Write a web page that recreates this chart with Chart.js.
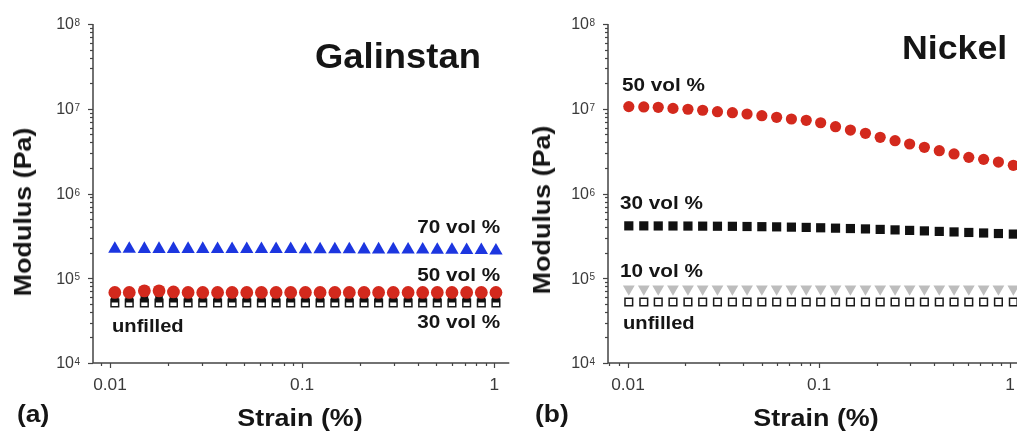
<!DOCTYPE html>
<html>
<head>
<meta charset="utf-8">
<title>Modulus vs strain - Galinstan / Nickel</title>
<script src="https://cdn.jsdelivr.net/npm/chart.js@4.4.1/dist/chart.umd.min.js"></script>
<style>
    html, body { margin: 0; padding: 0; background: #fff; }
    body { width: 1017px; height: 434px; overflow: hidden; position: relative; font-family: 'Liberation Sans', Arial, sans-serif; }
    .panel { position: absolute; top: 0; height: 434px; }
    .lbl { position: absolute; font-weight: bold; line-height: 1; white-space: nowrap; color: #151515; }
    .l { transform-origin: left center; }
    .r { transform-origin: right center; }
</style>
</head>
<body>
<div class="panel" style="left:0;width:517px"><canvas id="chartA" width="517" height="434"></canvas></div>
<div class="panel" style="left:500px;width:535px"><canvas id="chartB" width="535" height="434"></canvas></div>

<!-- panel (a) text -->
<div class="lbl l" style="left:315px;top:38px;font-size:35px;transform:scaleX(1.04)">Galinstan</div>
<div class="lbl r" style="right:517px;top:218px;font-size:18px;transform:scaleX(1.15)">70 vol %</div>
<div class="lbl r" style="right:517px;top:266px;font-size:18px;transform:scaleX(1.15)">50 vol %</div>
<div class="lbl r" style="right:517px;top:313px;font-size:18px;transform:scaleX(1.15)">30 vol %</div>
<div class="lbl l" style="left:112px;top:317px;font-size:18px;transform:scaleX(1.12)">unfilled</div>
<div class="lbl l" style="left:17px;top:402px;font-size:24px;transform:scaleX(1.1)">(a)</div>
<div class="lbl" style="left:300px;top:406px;font-size:24px;transform:translateX(-50%) scaleX(1.12)">Strain (%)</div>
<div class="lbl" style="left:23px;top:212px;font-size:24px;transform:translate(-50%,-50%) rotate(-90deg) scaleX(1.12)">Modulus (Pa)</div>

<!-- panel (b) text -->
<div class="lbl l" style="left:902px;top:30px;font-size:34px;transform:scaleX(1.05)">Nickel</div>
<div class="lbl l" style="left:622px;top:76px;font-size:18px;transform:scaleX(1.15)">50 vol %</div>
<div class="lbl l" style="left:620px;top:194px;font-size:18px;transform:scaleX(1.15)">30 vol %</div>
<div class="lbl l" style="left:620px;top:262px;font-size:18px;transform:scaleX(1.15)">10 vol %</div>
<div class="lbl l" style="left:623px;top:314px;font-size:18px;transform:scaleX(1.12)">unfilled</div>
<div class="lbl l" style="left:535px;top:402px;font-size:24px;transform:scaleX(1.1)">(b)</div>
<div class="lbl" style="left:816px;top:406px;font-size:24px;transform:translateX(-50%) scaleX(1.12)">Strain (%)</div>
<div class="lbl" style="left:542px;top:210px;font-size:24px;transform:translate(-50%,-50%) rotate(-90deg) scaleX(1.12)">Modulus (Pa)</div>

<script>
const galStrain = [0.0106, 0.0126, 0.0151, 0.0180, 0.0214, 0.0255, 0.0304, 0.0363, 0.0432, 0.0515,
    0.0614, 0.0732, 0.0872, 0.104, 0.124, 0.148, 0.176, 0.210, 0.250, 0.298,
    0.356, 0.424, 0.505, 0.602, 0.718, 0.856, 1.02];
const niStrain = [0.0101, 0.0121, 0.0144, 0.0172, 0.0206, 0.0246, 0.0294, 0.0352, 0.0420, 0.0502,
    0.0600, 0.0717, 0.0857, 0.102, 0.122, 0.146, 0.175, 0.209, 0.250, 0.298,
    0.356, 0.426, 0.509, 0.608, 0.727, 0.869, 1.04];

// (a) Galinstan modulus (Pa)
const gal70 = [2.22e5, 2.22e5, 2.21e5, 2.21e5, 2.21e5, 2.21e5, 2.21e5, 2.20e5, 2.20e5, 2.20e5,
    2.20e5, 2.20e5, 2.20e5, 2.19e5, 2.19e5, 2.19e5, 2.19e5, 2.18e5, 2.18e5, 2.18e5,
    2.17e5, 2.17e5, 2.16e5, 2.16e5, 2.15e5, 2.14e5, 2.12e5];
const gal50 = [6.8e4, 6.8e4, 7.1e4, 7.1e4, 6.9e4, 6.8e4, 6.8e4, 6.8e4, 6.8e4, 6.8e4,
    6.8e4, 6.8e4, 6.8e4, 6.8e4, 6.8e4, 6.8e4, 6.8e4, 6.8e4, 6.8e4, 6.8e4,
    6.8e4, 6.8e4, 6.8e4, 6.8e4, 6.8e4, 6.8e4, 6.8e4];
const gal30 = [5.75e4, 5.75e4, 5.75e4, 5.75e4, 5.75e4, 5.75e4, 5.75e4, 5.75e4, 5.75e4, 5.75e4,
    5.75e4, 5.75e4, 5.75e4, 5.75e4, 5.75e4, 5.75e4, 5.75e4, 5.75e4, 5.75e4, 5.75e4,
    5.75e4, 5.75e4, 5.75e4, 5.75e4, 5.75e4, 5.75e4, 5.75e4];
const galUnfilled = [5.1e4, 5.1e4, 5.1e4, 5.1e4, 5.1e4, 5.1e4, 5.1e4, 5.1e4, 5.1e4, 5.1e4,
    5.1e4, 5.1e4, 5.1e4, 5.1e4, 5.1e4, 5.1e4, 5.1e4, 5.1e4, 5.1e4, 5.1e4,
    5.1e4, 5.1e4, 5.1e4, 5.1e4, 5.1e4, 5.1e4, 5.1e4];

// (b) Nickel modulus (Pa)
const ni50 = [1.06e7, 1.05e7, 1.04e7, 1.01e7, 9.86e6, 9.6e6, 9.23e6, 8.98e6, 8.67e6, 8.28e6,
    7.93e6, 7.57e6, 7.31e6, 6.84e6, 6.14e6, 5.61e6, 5.13e6, 4.6e6, 4.2e6, 3.84e6,
    3.51e6, 3.2e6, 2.93e6, 2.67e6, 2.53e6, 2.35e6, 2.15e6];
const ni30 = [4.15e5, 4.15e5, 4.14e5, 4.14e5, 4.13e5, 4.12e5, 4.11e5, 4.10e5, 4.08e5, 4.06e5,
    4.04e5, 4.01e5, 3.98e5, 3.94e5, 3.90e5, 3.86e5, 3.82e5, 3.77e5, 3.72e5, 3.67e5,
    3.62e5, 3.57e5, 3.52e5, 3.47e5, 3.42e5, 3.37e5, 3.32e5];
const ni10 = [7.5e4, 7.5e4, 7.5e4, 7.5e4, 7.5e4, 7.5e4, 7.5e4, 7.5e4, 7.5e4, 7.5e4,
    7.5e4, 7.5e4, 7.5e4, 7.5e4, 7.5e4, 7.5e4, 7.5e4, 7.5e4, 7.5e4, 7.5e4,
    7.5e4, 7.5e4, 7.5e4, 7.5e4, 7.5e4, 7.5e4, 7.5e4];
const niUnfilled = [5.25e4, 5.25e4, 5.25e4, 5.25e4, 5.25e4, 5.25e4, 5.25e4, 5.25e4, 5.25e4, 5.25e4,
    5.25e4, 5.25e4, 5.25e4, 5.25e4, 5.25e4, 5.25e4, 5.25e4, 5.25e4, 5.25e4, 5.25e4,
    5.25e4, 5.25e4, 5.25e4, 5.25e4, 5.25e4, 5.25e4, 5.25e4];

// axis ticks
const xTickValues = [0.01, 0.1, 1];
const xTickLabels = ['0.01', '0.1', '1'];
const yTickExps = [4, 5, 6, 7, 8];

function pts(xs, ys) {
    return xs.map((x, i) => ({ x: x, y: ys[i] }));
}

// axis lines, log ticks and tick labels drawn from the chart's own scales
const axisDecor = {
    id: 'axisDecor',
    beforeDatasetsDraw(chart) {
        const ctx = chart.ctx;
        const xs = chart.scales.x, ys = chart.scales.y;
        const a = chart.chartArea;
        ctx.save();
        ctx.strokeStyle = '#444';
        ctx.lineWidth = 1.5;
        ctx.beginPath();
        ctx.moveTo(a.left, a.top);
        ctx.lineTo(a.left, a.bottom);
        ctx.lineTo(a.right, a.bottom);
        ctx.stroke();

        ctx.lineWidth = 1.2;
        for (let e = Math.floor(Math.log10(xs.min)); e <= Math.ceil(Math.log10(xs.max)); e++) {
            for (let m = 1; m <= 9; m++) {
                const v = m * Math.pow(10, e);
                if (v < xs.min || v > xs.max) continue;
                const px = Math.round(xs.getPixelForValue(v)) + 0.5;
                ctx.beginPath();
                ctx.moveTo(px, a.bottom);
                ctx.lineTo(px, a.bottom + (m === 1 ? 5 : 3));
                ctx.stroke();
            }
        }
        for (let e = Math.floor(Math.log10(ys.min)); e <= Math.ceil(Math.log10(ys.max)); e++) {
            for (let m = 1; m <= 9; m++) {
                const v = m * Math.pow(10, e);
                if (v < ys.min * 0.999 || v > ys.max * 1.001) continue;
                const py = Math.round(ys.getPixelForValue(v)) + 0.5;
                ctx.beginPath();
                ctx.moveTo(a.left, py);
                ctx.lineTo(a.left - (m === 1 ? 5 : 3), py);
                ctx.stroke();
            }
        }

        ctx.fillStyle = '#3a3a3a';
        ctx.font = '16px "Liberation Sans", Arial, sans-serif';
        ctx.textAlign = 'center';
        ctx.textBaseline = 'alphabetic';
        xTickValues.forEach((v, i) => {
            const px = xs.getPixelForValue(v);
            ctx.save();
            ctx.translate(px, a.bottom + 27);
            ctx.scale(1.08, 1);
            ctx.fillText(xTickLabels[i], 0, 0);
            ctx.restore();
        });

        yTickExps.forEach(e => {
            const py = ys.getPixelForValue(Math.pow(10, e));
            ctx.font = '16px "Liberation Sans", Arial, sans-serif';
            ctx.textAlign = 'right';
            ctx.textBaseline = 'middle';
            ctx.fillText('10', a.left - 19, py + 1);
            ctx.font = '10px "Liberation Sans", Arial, sans-serif';
            ctx.textAlign = 'left';
            ctx.textBaseline = 'alphabetic';
            ctx.fillText(String(e), a.left - 18.5, py + 2);
        });
        ctx.restore();
    }
};

function makeChart(id, datasets, xMin, yAxisWidth, padRight) {
    return new Chart(document.getElementById(id), {
        type: 'scatter',
        data: { datasets: datasets },
        options: {
            responsive: false,
            animation: false,
            layout: { padding: { top: 24, right: padRight, bottom: 0, left: 0 } },
            plugins: { legend: { display: false }, tooltip: { enabled: false } },
            scales: {
                x: {
                    type: 'logarithmic', min: xMin, max: 1.197,
                    grid: { display: false }, border: { display: false },
                    ticks: { display: false },
                    afterFit: s => { s.height = 71; }
                },
                y: {
                    type: 'logarithmic', min: 1e4, max: 1e8,
                    grid: { display: false }, border: { display: false },
                    ticks: { display: false },
                    afterFit: s => { s.width = yAxisWidth; }
                }
            }
        },
        plugins: [axisDecor]
    });
}

const red = '#d3291d';

// first dataset is drawn on top
makeChart('chartA', [
    { label: '50 vol %', data: pts(galStrain, gal50), pointStyle: 'circle', pointRadius: 6.4,
      pointBackgroundColor: red, pointBorderWidth: 0 },
    { label: '30 vol %', data: pts(galStrain, gal30), pointStyle: 'rect', pointRadius: 5.4,
      pointBackgroundColor: '#111', pointBorderWidth: 0 },
    { label: 'unfilled', data: pts(galStrain, galUnfilled), pointStyle: 'rect', pointRadius: 5.4,
      pointBackgroundColor: '#fff', pointBorderColor: '#1a1a1a', pointBorderWidth: 1.5 },
    { label: '70 vol %', data: pts(galStrain, gal70), pointStyle: 'triangle', pointRadius: 7.7,
      pointBackgroundColor: '#1c36e0', pointBorderWidth: 0 }
], 0.00816, 93, 7);

makeChart('chartB', [
    { label: '50 vol %', data: pts(niStrain, ni50), pointStyle: 'circle', pointRadius: 5.6,
      pointBackgroundColor: red, pointBorderWidth: 0 },
    { label: '30 vol %', data: pts(niStrain, ni30), pointStyle: 'rect', pointRadius: 6.5,
      pointBackgroundColor: '#111', pointBorderWidth: 0 },
    { label: '10 vol %', data: pts(niStrain, ni10), pointStyle: 'triangle', pointRadius: 6.8, pointRotation: 180,
      pointBackgroundColor: '#bdbdbd', pointBorderWidth: 0 },
    { label: 'unfilled', data: pts(niStrain, niUnfilled), pointStyle: 'rect', pointRadius: 5.4,
      pointBackgroundColor: '#fff', pointBorderColor: '#1a1a1a', pointBorderWidth: 1.5 }
], 0.00786, 108, 10);
</script>
</body>
</html>
